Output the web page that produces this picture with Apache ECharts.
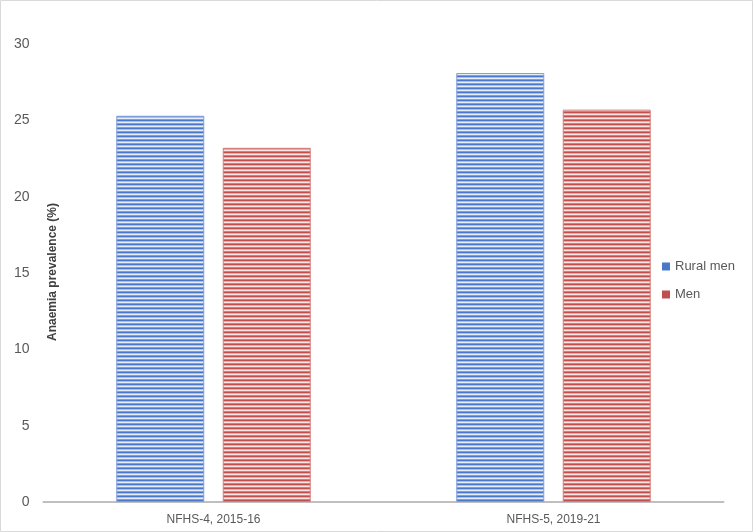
<!DOCTYPE html>
<html>
<head>
<meta charset="utf-8">
<script src="https://cdn.jsdelivr.net/npm/echarts@6/dist/echarts.min.js"></script>
<style>
  html, body { margin: 0; padding: 0; background: #fff; }
  #chart { width: 753px; height: 532px; }
</style>
</head>
<body>
<div id="chart"></div>
<script>
const categories = ['NFHS-4, 2015-16', 'NFHS-5, 2019-21']
const ruralMen = [25.3, 28.1]
const men = [23.2, 25.7]
const yTicks = [0, 5, 10, 15, 20, 25, 30]
const yTitle = 'Anaemia prevalence (%)'

// horizontal stripe fill, like the Excel pattern
const stripes = (rows) => {
  const c = document.createElement('canvas')
  c.width = 4
  c.height = rows.length
  const ctx = c.getContext('2d')
  rows.forEach((col, i) => {
    ctx.fillStyle = col
    ctx.fillRect(0, i, 4, 1)
  })
  return { image: c, repeat: 'repeat' }
}

const blueFill = stripes(['#4a78c8', '#a9c1e8', '#e6edf8', '#7fa1da'])
const redFill = stripes(['#c0504d', '#e8aaa8', '#f8e4e3', '#d67f7c'])

const myChart = echarts.init(document.getElementById('chart'))
myChart.setOption({
  animation: false,
  textStyle: { fontFamily: 'Liberation Sans' },
  graphic: [
    {
      type: 'rect',
      shape: { x: 0.5, y: 0.5, width: 752, height: 531 },
      style: { fill: 'none', stroke: '#d9d9d9', lineWidth: 1 },
      silent: true
    },
    {
      // y axis title sits just right of the tick labels, as in the Excel chart
      type: 'text',
      x: 53,
      y: 272,
      rotation: Math.PI / 2,
      style: {
        text: yTitle,
        fill: '#404040',
        font: 'bold 12px "Liberation Sans"',
        align: 'center',
        verticalAlign: 'middle'
      },
      silent: true
    }
  ],
  grid: { left: 43.5, right: 29.5, top: 44, bottom: 30, containLabel: false, outerBoundsMode: 'none' },
  legend: {
    orient: 'vertical',
    left: 657,
    top: 255,
    itemWidth: 8,
    itemHeight: 8,
    itemGap: 15,
    icon: 'rect',
    textStyle: { color: '#595959', fontSize: 13 },
    data: [
      { name: 'Rural men', itemStyle: { color: '#4a78c8', borderWidth: 0 } },
      { name: 'Men', itemStyle: { color: '#c0504d', borderWidth: 0 } }
    ]
  },
  xAxis: {
    type: 'category',
    data: categories,
    axisLine: { lineStyle: { color: '#bfbfbf', width: 2 } },
    axisTick: { show: false },
    axisLabel: { color: '#595959', fontSize: 12, margin: 12 }
  },
  yAxis: {
    type: 'value',
    min: yTicks[0],
    max: yTicks[yTicks.length - 1],
    interval: 5,
    axisLine: { show: false },
    axisTick: { show: false },
    splitLine: { show: false },
    axisLabel: { color: '#595959', fontSize: 14, margin: 14 }
  },
  series: [
    {
      name: 'Rural men',
      type: 'bar',
      data: ruralMen,
      barWidth: 88,
      barGap: '21%',
      itemStyle: { color: blueFill, borderColor: '#7fa1da', borderWidth: 1 }
    },
    {
      name: 'Men',
      type: 'bar',
      data: men,
      barWidth: 88,
      itemStyle: { color: redFill, borderColor: '#d67f7c', borderWidth: 1 }
    }
  ]
})
</script>
</body>
</html>
